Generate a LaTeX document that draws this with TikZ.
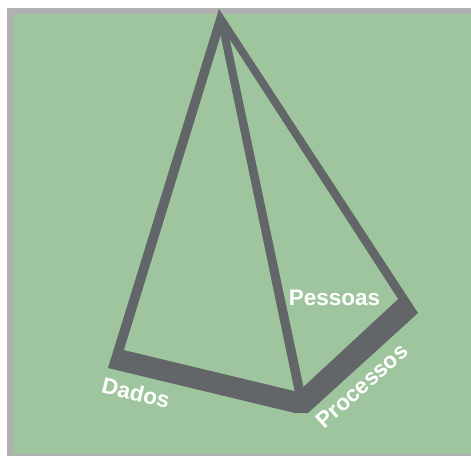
\documentclass[tikz,border=0pt]{standalone}
\usepackage{fontspec}
\setsansfont{Liberation Sans}
\usepackage{tikz}
\usetikzlibrary{calc}
\usepackage{xcolor}
\definecolor{framecol}{RGB}{176,176,176}
\definecolor{fieldcol}{RGB}{158,197,158}
\definecolor{edgecol}{RGB}{99,102,104}
\tikzset{
  % solid body of the pyramid (edges + thick base)
  pyrbody/.style={fill=edgecol},
  % open face, shows the field behind
  pyrface/.style={fill=fieldcol},
  % white text along the base
  baselabel/.style={text=white, font=\fontsize{22.5}{26}\selectfont\sffamily\bfseries, inner sep=0pt},
}

\begin{document}
\begin{tikzpicture}[x=1pt, y=-1pt]
  \useasboundingbox (0,0) rectangle (471,456);

  % ═══════ FRAME ═══════
  \fill[framecol] (7,8) rectangle (471,456);
  \fill[fieldcol] (13,14) rectangle (471,454);

  % ═══════ OUTLINE ═══════
  \coordinate (apex) at (219,9);
  \coordinate (rtip) at (418,313);
  \coordinate (bot2) at (308,413);
  \coordinate (bot1) at (295,413);
  \coordinate (ltip) at (108,368);
  \fill[pyrbody] (apex) -- (rtip) -- (bot2) -- (bot1) -- (ltip) -- cycle;

  % ═══════ FACES ═══════
  % left face
  \coordinate (ltop) at (220.6,36);
  \coordinate (lin) at (124,350);
  \coordinate (mlin) at (294.5,391);
  \fill[pyrface] (ltop) -- (lin) -- (mlin) -- cycle;
  % right face
  \coordinate (rtop) at (230,40);
  \coordinate (mrin) at (303.5,386.6);
  \coordinate (rin) at (398,299);
  \fill[pyrface] (rtop) -- (mrin) -- (rin) -- cycle;

  % ═══════ LABELS ═══════
  \node[baselabel, rotate=-13.5] (dados) at (136,393) {Dados};
  \node[baselabel, anchor=base] (pessoas) at (334.5,305) {Pessoas};
  \node[baselabel, rotate=42] (processos) at (362,386) {Processos};

\end{tikzpicture}
\end{document}
